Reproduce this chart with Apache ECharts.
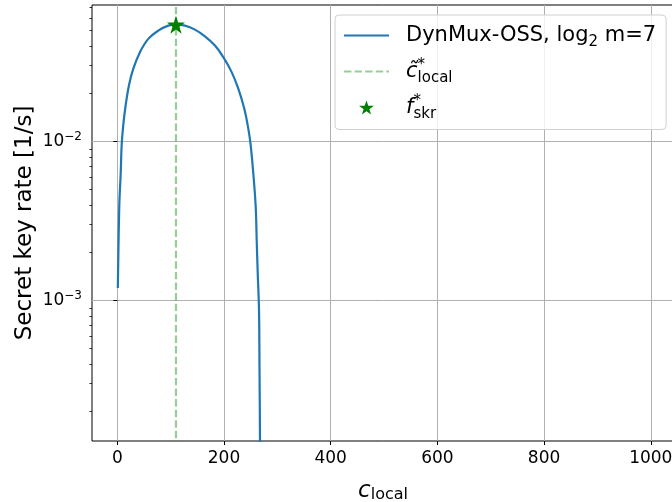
<!DOCTYPE html>
<html>
<head>
<meta charset="utf-8">
<script src="https://cdn.jsdelivr.net/npm/echarts@6/dist/echarts.min.js"></script>
<style>
  html, body { margin: 0; padding: 0; background: #fff; }
  #main { width: 672px; height: 502px; }
</style>
</head>
<body>
<div id="main"></div>
<script>
// c_local values and secret key rate
var cLocal = [1, 3.7, 6.4, 8.2, 11.2, 15.7, 21.9, 30.0, 42.5, 58.1, 76.9, 95.6, 110, 126.8, 145.5,
  164.3, 183.1, 198.7, 214.4, 226.8, 238, 245.5, 250, 254.9, 259.4, 261.3, 263.2, 265.6, 266.5, 267.5, 268.3];
var skr = [1.2e-3, 3.91e-3, 6.32e-3, 9.51e-3, 1.269e-2, 1.693e-2, 2.258e-2, 2.873e-2, 3.65e-2, 4.427e-2, 4.99e-2, 5.363e-2, 5.44e-2, 5.363e-2, 5.063e-2,
  4.597e-2, 4.021e-2, 3.396e-2, 2.735e-2, 2.153e-2, 1.614e-2, 1.21e-2, 9.51e-3, 6.32e-3, 3.91e-3, 2.415e-3, 1.496e-3, 8.81e-4, 4.1e-4, 1.3e-4, 3e-5];

// optimum
var cOpt = 110;
var fOpt = 0.0544;

// tick values
var xTicks = [0, 200, 400, 600, 800, 1000];
var yMajor = [1e-3, 1e-2];
var yMinor = [2e-4, 3e-4, 4e-4, 5e-4, 6e-4, 7e-4, 8e-4, 9e-4,
  2e-3, 3e-3, 4e-3, 5e-3, 6e-3, 7e-3, 8e-3, 9e-3,
  2e-2, 3e-2, 4e-2, 5e-2, 6e-2, 7e-2];

var xMin = -47.4, xMax = 1043.5;
var yMin = 1.308e-4, yMax = 0.0723;

var FONT = '"DejaVu Sans", sans-serif';
var STAR = 'path://M50,0 L61.8,35.4 L99,35.4 L69,57.3 L80.4,92.7 L50,70.8 L19.6,92.7 L31,57.3 L1,35.4 L38.2,35.4 Z';

var curveData = cLocal.map(function (c, i) { return [c, skr[i]]; });

var names = ['DynMux-OSS, log2 m=7', 'c_local*', 'f_skr*'];
var legendText = {};
legendText[names[0]] = '{t|DynMux-OSS, log}{sub|2}{t| m=7}';
legendText[names[1]] = '{it|c\u0303}{supz|*}{sub|local}';
legendText[names[2]] = '{it|f}{supz|*}{sub|skr}';

var myChart = echarts.init(document.getElementById('main'));

var option = {
  animation: false,
  backgroundColor: '#fff',
  textStyle: { fontFamily: FONT },
  grid: {
    left: 92, right: -2, top: 5, bottom: 61,
    outerBoundsMode: 'none',
    show: true, borderColor: '#000', borderWidth: 1,
    backgroundColor: 'transparent'
  },
  legend: {
    data: [
      { name: names[0], itemStyle: { opacity: 0 } },
      { name: names[1], itemStyle: { opacity: 0 } },
      { name: names[2] }
    ],
    left: 335, top: 15,
    orient: 'vertical',
    itemWidth: 45, itemHeight: 14, itemGap: 8,
    padding: [10, 10, 8, 8],
    backgroundColor: 'rgba(255,255,255,0.8)',
    borderColor: '#d0d0d0', borderWidth: 1, borderRadius: 4,
    formatter: function (name) { return legendText[name]; },
    textStyle: {
      fontFamily: FONT,
      padding: [0, 0, 0, 12],
      rich: {
        t: { fontSize: 21, lineHeight: 28, color: '#000', fontFamily: FONT },
        it: { fontSize: 21, lineHeight: 28, color: '#000', fontStyle: 'italic', fontFamily: FONT },
        sub: { fontSize: 15, lineHeight: 14, color: '#000', verticalAlign: 'bottom', fontFamily: FONT },
        supz: { fontSize: 15, lineHeight: 15, color: '#000', verticalAlign: 'top', width: 0, fontFamily: FONT }
      }
    }
  },
  xAxis: {
    type: 'value',
    min: xMin, max: xMax,
    name: '{c|c}{s|local}',
    nameLocation: 'middle',
    nameGap: 36,
    nameMoveOverlap: false,
    nameTextStyle: {
      rich: {
        c: { fontSize: 23, lineHeight: 28, fontStyle: 'italic', color: '#000', fontFamily: FONT },
        s: { fontSize: 16, lineHeight: 16, verticalAlign: 'bottom', padding: [0, 0, 2, 0], color: '#000', fontFamily: FONT }
      }
    },
    axisLine: { show: false },
    axisTick: { show: true, length: 4, customValues: xTicks, lineStyle: { color: '#000', width: 1 } },
    axisLabel: {
      customValues: xTicks, fontSize: 17, color: '#000', margin: 9, fontFamily: FONT,
      formatter: function (v) { return String(v); }
    },
    splitLine: { show: true, lineStyle: { color: '#b0b0b0', width: 1 } }
  },
  yAxis: [{
    type: 'log',
    logBase: 10,
    min: yMin, max: yMax,
    name: 'Secret key rate [1/s]',
    nameLocation: 'middle',
    nameGap: 55,
    nameMoveOverlap: false,
    nameTextStyle: { fontSize: 23, color: '#000', fontFamily: FONT },
    axisLine: { show: false },
    axisTick: { show: true, length: 4, customValues: yMajor, lineStyle: { color: '#000', width: 1 } },
    axisLabel: {
      customValues: yMajor,
      margin: 10,
      formatter: function (v) {
        var e = Math.round(Math.log10(v));
        return '{b|10}{s|\u2212' + (-e) + '}';
      },
      rich: {
        b: { fontSize: 17, lineHeight: 22, color: '#000', fontFamily: FONT },
        s: { fontSize: 12, lineHeight: 12, verticalAlign: 'top', color: '#000', fontFamily: FONT }
      }
    },
    splitLine: { show: true, lineStyle: { color: '#b0b0b0', width: 1 } }
  }, {
    type: 'log',
    logBase: 10,
    min: yMin, max: yMax,
    position: 'left',
    axisLine: { show: false },
    axisTick: { show: true, length: 2.5, customValues: yMinor, lineStyle: { color: '#000', width: 0.8 } },
    axisLabel: { show: false },
    splitLine: { show: false }
  }],
  series: [{
    name: names[0],
    type: 'line',
    data: curveData,
    showSymbol: false,
    symbol: 'none',
    smooth: 0.4,
    clip: true,
    lineStyle: { color: '#1f77b4', width: 2.2 },
    itemStyle: { color: '#1f77b4' },
    z: 3
  }, {
    name: names[1],
    type: 'line',
    data: [[cOpt, 1e-6], [cOpt, 1]],
    showSymbol: false,
    symbol: 'none',
    clip: true,
    lineStyle: { color: 'rgba(44,160,44,0.5)', width: 2.2, type: [7.4, 3.2] },
    itemStyle: { color: 'rgba(44,160,44,0.5)' },
    z: 2
  }, {
    name: names[2],
    type: 'scatter',
    data: [[cOpt, fOpt]],
    symbol: STAR,
    symbolSize: 18,
    itemStyle: { color: '#008000', opacity: 1 },
    z: 5
  }]
};

myChart.setOption(option);
</script>
</body>
</html>
